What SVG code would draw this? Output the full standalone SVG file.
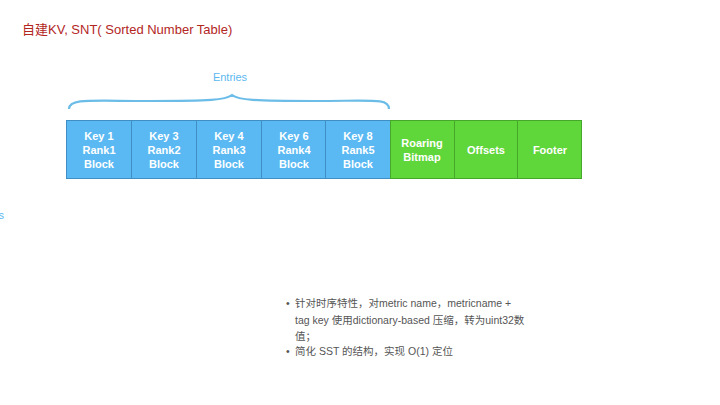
<svg xmlns="http://www.w3.org/2000/svg" width="720" height="405" viewBox="0 0 720 405">
<style>
.t{font-family:"Liberation Sans","Noto Sans CJK SC",sans-serif}
.blue rect{fill:#5ab9f2;stroke:#3f8fc4;stroke-width:1}
.green rect{fill:#5fd63a;stroke:#46a82a;stroke-width:1}
.lbl{font-family:"Liberation Sans",Arial,sans-serif;font-size:11px;font-weight:bold;fill:#fff;text-anchor:middle}
.note{font-family:"Liberation Sans","Noto Sans CJK SC",sans-serif;font-size:10.5px;fill:#555}
</style>
<rect width="720" height="405" fill="#fff"/>
<text class="t" x="22" y="34" font-size="13" fill="#b3261e">自建KV, SNT( Sorted Number Table)</text>
<text class="t" x="230" y="81" font-size="11" fill="#5bb8f0" text-anchor="middle">Entries</text>
<text class="t" x="4" y="219" font-size="11" fill="#5bb8f0" text-anchor="end">s</text>
<g id="connectors">
<path d="M69,109 C69,98 90,101 150,101 C210,101 226,100 232,95 C238,100 254,101 314,101 C374,101 389,98 389,109" fill="none" stroke="#6bbde8" stroke-width="2.2"/>
</g>
<g id="n1" class="blue"><rect x="66.5" y="120.5" width="65" height="58"/><text class="lbl" x="99" y="140">Key 1</text><text class="lbl" x="99" y="154">Rank1</text><text class="lbl" x="99" y="168">Block</text></g>
<g id="n2" class="blue"><rect x="131.5" y="120.5" width="65" height="58"/><text class="lbl" x="164" y="140">Key 3</text><text class="lbl" x="164" y="154">Rank2</text><text class="lbl" x="164" y="168">Block</text></g>
<g id="n3" class="blue"><rect x="196.5" y="120.5" width="65" height="58"/><text class="lbl" x="229" y="140">Key 4</text><text class="lbl" x="229" y="154">Rank3</text><text class="lbl" x="229" y="168">Block</text></g>
<g id="n4" class="blue"><rect x="261.5" y="120.5" width="64" height="58"/><text class="lbl" x="294" y="140">Key 6</text><text class="lbl" x="294" y="154">Rank4</text><text class="lbl" x="294" y="168">Block</text></g>
<g id="n5" class="blue"><rect x="325.5" y="120.5" width="65" height="58"/><text class="lbl" x="358" y="140">Key 8</text><text class="lbl" x="358" y="154">Rank5</text><text class="lbl" x="358" y="168">Block</text></g>
<g id="n6" class="green"><rect x="390.5" y="120.5" width="64" height="58"/><text class="lbl" x="422" y="147">Roaring</text><text class="lbl" x="422" y="161">Bitmap</text></g>
<g id="n7" class="green"><rect x="454.5" y="120.5" width="63" height="58"/><text class="lbl" x="486" y="154">Offsets</text></g>
<g id="n8" class="green"><rect x="517.5" y="120.5" width="64" height="58"/><text class="lbl" x="550" y="154">Footer</text></g>
<g id="notes">
<text class="note" x="286" y="307">•</text>
<text class="note" x="295" y="307">针对时序特性，对metric name，metricname +</text>
<text class="note" x="295" y="324">tag key 使用dictionary-based 压缩，转为uint32数</text>
<text class="note" x="295" y="340">值；</text>
<text class="note" x="286" y="355">•</text>
<text class="note" x="295" y="355">简化 SST 的结构，实现 O(1) 定位</text>
</g>
</svg>
